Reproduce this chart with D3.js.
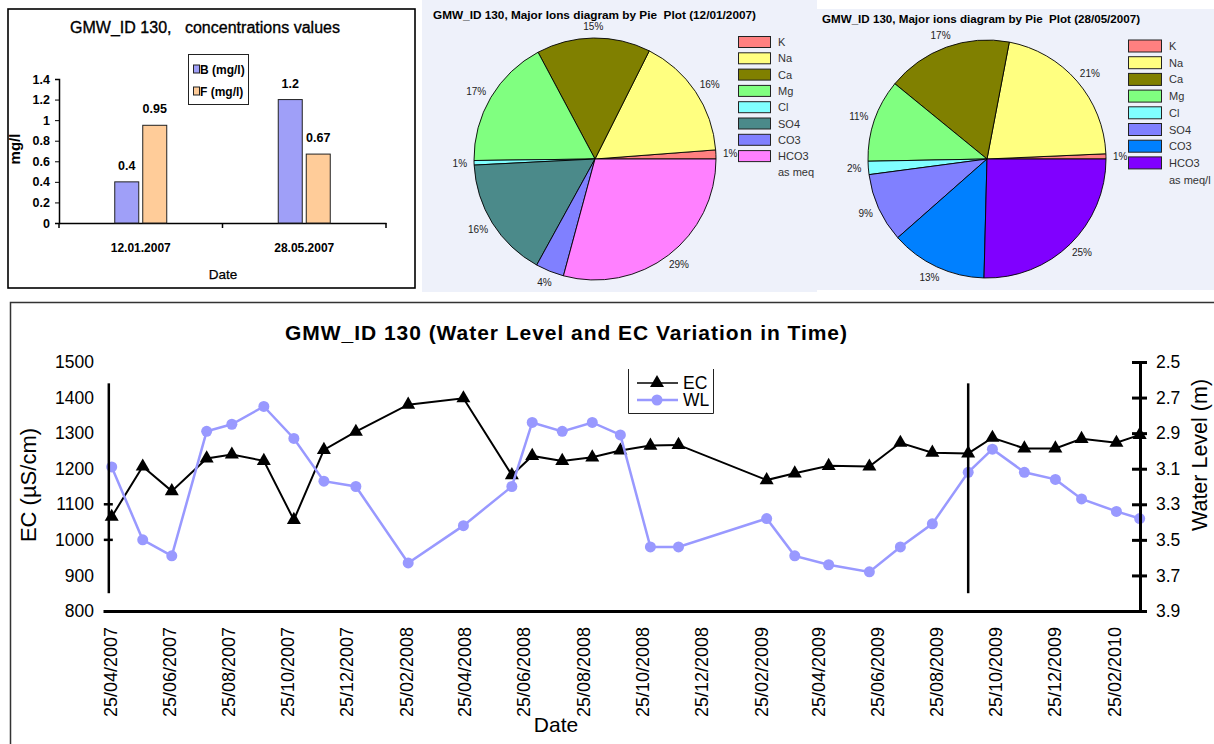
<!DOCTYPE html>
<html><head><meta charset="utf-8">
<script src="https://cdn.jsdelivr.net/npm/d3@7"></script>
<style>
body{margin:0;background:#fff;}
svg{display:block;font-family:"Liberation Sans",Arial,Helvetica,sans-serif;}
text{white-space:pre;}
</style>
</head><body>
<script>
// ---------- data ----------
const barDates = ["12.01.2007", "28.05.2007"];
const barSeries = ["B (mg/l)", "F (mg/l)"];
const boronValues = [0.4, 1.2];
const fluorideValues = [0.95, 0.67];
const barTicks = [0, 0.2, 0.4, 0.6, 0.8, 1, 1.2, 1.4];
const barColors = ["#9f9ff8", "#ffcc99"];

const ions = ["K", "Na", "Ca", "Mg", "Cl", "SO4", "CO3", "HCO3"];
const pie1Values = [1.2, 16.4, 15.2, 17.4, 0.6, 16.2, 3.8, 29.2];
const pie2Values = [0.7, 21.3, 17.1, 11.2, 1.8, 9.4, 13.1, 25.4];
const pie1Colors = ["#ff8080", "#ffff80", "#808000", "#80ff80", "#80ffff", "#4b8a8a", "#8080ff", "#ff80ff"];
const pie2Colors = ["#ff8080", "#ffff80", "#808000", "#80ff80", "#80ffff", "#8080ff", "#0080ff", "#8000ff"];

const sampleDates = ["2007-04-27","2007-05-29","2007-06-28","2007-08-03","2007-08-29","2007-10-01","2007-11-01","2007-12-02","2008-01-04","2008-02-27","2008-04-24","2008-06-13","2008-07-04","2008-08-04","2008-09-04","2008-10-03","2008-11-03","2008-12-02","2009-03-03","2009-04-01","2009-05-06","2009-06-17","2009-07-19","2009-08-21","2009-09-27","2009-10-22","2009-11-24","2009-12-26","2010-01-22","2010-02-27","2010-03-23"];
const ecValues = [1065,1206,1137,1229,1240,1222,1056,1253,1304,1380,1398,1182,1236,1222,1232,1251,1265,1267,1168,1187,1208,1206,1273,1245,1243,1287,1257,1257,1284,1273,1295];
const wlValues = [3.09,3.50,3.59,2.89,2.85,2.75,2.93,3.17,3.20,3.63,3.42,3.20,2.84,2.89,2.84,2.91,3.54,3.54,3.38,3.59,3.64,3.68,3.54,3.41,3.12,2.99,3.12,3.16,3.27,3.34,3.38];
const dateTicks = ["2007-04-25","2007-06-25","2007-08-25","2007-10-25","2007-12-25","2008-02-25","2008-04-25","2008-06-25","2008-08-25","2008-10-25","2008-12-25","2009-02-25","2009-04-25","2009-06-25","2009-08-25","2009-10-25","2009-12-25","2010-02-25"];
const ecTicks = [800, 900, 1000, 1100, 1200, 1300, 1400, 1500];
const wlTicks = [2.5, 2.7, 2.9, 3.1, 3.3, 3.5, 3.7, 3.9];
const markerDates = ["2007-04-24", "2009-09-27"];
const markerRange = [850, 1440];
const markerTicks = [1000, 1100];

// ---------- svg ----------
const svg = d3.select("body").append("svg").attr("width", 1214).attr("height", 744);

// ================= Bar chart panel =================
svg.append("rect").attr("x", 8).attr("y", 9).attr("width", 407).attr("height", 279)
  .attr("fill", "#fff").attr("stroke", "#000").attr("stroke-width", 1.6);
svg.append("text").attr("x", 205).attr("y", 33).attr("text-anchor", "middle")
  .attr("font-size", 16).attr("stroke", "#000").attr("stroke-width", 0.35)
  .attr("textLength", 270).attr("lengthAdjust", "spacing")
  .text("GMW_ID 130,   concentrations values");

const x0 = d3.scaleBand().domain(barDates).range([59, 386]);
const x1 = d3.scaleBand().domain(barSeries).range([0, 52]).paddingInner(0.142857);
const yBar = d3.scaleLinear().domain([0, 1.4]).range([223, 79]);

const yAx = svg.append("g").attr("transform", "translate(59,0)")
  .call(d3.axisLeft(yBar).tickValues(barTicks).tickSize(4).tickPadding(5).tickFormat(d => String(+d.toFixed(1))));
yAx.select(".domain").attr("stroke-width", 1.5);
yAx.selectAll("text").attr("font-size", 12.5).attr("font-weight", "bold").attr("font-family", "Liberation Sans, Arial");

const xAx = svg.append("g").attr("transform", "translate(0,223)")
  .call(d3.axisBottom(x0).tickSize(0).tickPadding(20));
xAx.select(".domain").attr("stroke-width", 1.5);
xAx.selectAll("text").attr("font-size", 12).attr("font-weight", "bold").attr("font-family", "Liberation Sans, Arial");
const bounds = barDates.map(d => x0(d)).concat([x0.range()[1]]);
svg.append("g").selectAll("line").data(bounds).join("line")
  .attr("x1", d => d).attr("x2", d => d).attr("y1", 223).attr("y2", 228)
  .attr("stroke", "#000").attr("stroke-width", 1.5);

const barRows = barDates.map((d, i) => ({date: d, vals: [boronValues[i], fluorideValues[i]]}));
const grp = svg.append("g").selectAll("g").data(barRows).join("g")
  .attr("transform", d => `translate(${x0(d.date) + x0.bandwidth() / 2 - 26},0)`);
grp.selectAll("rect").data(d => d.vals.map((v, j) => ({s: barSeries[j], v, j}))).join("rect")
  .attr("x", d => x1(d.s)).attr("width", x1.bandwidth())
  .attr("y", d => yBar(d.v)).attr("height", d => yBar(0) - yBar(d.v))
  .attr("fill", d => barColors[d.j]).attr("stroke", "#222").attr("stroke-width", 1);
grp.selectAll("text").data(d => d.vals.map((v, j) => ({s: barSeries[j], v}))).join("text")
  .attr("x", d => x1(d.s) + x1.bandwidth() / 2).attr("y", d => yBar(d.v) - 12)
  .attr("text-anchor", "middle").attr("font-size", 12.5).attr("font-weight", "bold")
  .text(d => String(d.v));

svg.append("text").attr("transform", "translate(20,149) rotate(-90)").attr("text-anchor", "middle")
  .attr("font-size", 15).attr("font-weight", "bold").text("mg/l");
svg.append("text").attr("x", 223).attr("y", 279).attr("text-anchor", "middle")
  .attr("font-size", 13.5).attr("stroke", "#000").attr("stroke-width", 0.25).text("Date");

// legend
svg.append("rect").attr("x", 188.5).attr("y", 54.5).attr("width", 60).attr("height", 50)
  .attr("fill", "#fff").attr("stroke", "#222").attr("stroke-width", 1);
barSeries.forEach((s, i) => {
  const cy = 69 + i * 22;
  svg.append("rect").attr("x", 193.5).attr("y", cy - 4).attr("width", 6).attr("height", 8)
    .attr("fill", barColors[i]).attr("stroke", "#222").attr("stroke-width", 1);
  svg.append("text").attr("x", 200).attr("y", cy + 4.5).attr("font-size", 12).attr("font-weight", "bold").text(s);
});

// ================= Pie panels =================
svg.append("rect").attr("x", 422).attr("y", 0).attr("width", 395).attr("height", 292).attr("fill", "#eef1fa");
svg.append("rect").attr("x", 817).attr("y", 9).attr("width", 397).attr("height", 281).attr("fill", "#eef1fa");

function drawPie(o) {
  svg.append("text").attr("x", o.tx).attr("y", o.ty).attr("font-size", 10).attr("font-weight", "bold")
    .attr("textLength", o.tl).attr("lengthAdjust", "spacingAndGlyphs").text(o.title);
  const g = svg.append("g").attr("transform", `translate(${o.cx},${o.cy})`);
  const pie = d3.pie().sort(null).startAngle(Math.PI / 2).endAngle(Math.PI / 2 - 2 * Math.PI);
  const arcs = pie(o.values);
  const arc = d3.arc().innerRadius(0).outerRadius(o.r);
  const lab = d3.arc().innerRadius(o.r + 7).outerRadius(o.r + 7);
  const total = d3.sum(o.values);
  g.selectAll("path").data(arcs).join("path").attr("d", arc)
    .attr("fill", (d, i) => o.colors[i]).attr("stroke", "#000").attr("stroke-width", 0.9);
  g.selectAll("text").data(arcs).join("text")
    .attr("text-anchor", "middle").attr("dy", "0.35em")
    .attr("font-size", 10).attr("fill", "#222")
    .text(d => Math.round(d.value / total * 100) + "%")
    .attr("transform", function(d) {
      const c = lab.centroid(d);
      const a = (d.startAngle + d.endAngle) / 2;
      const w = this.getComputedTextLength();
      return `translate(${c[0] + Math.sin(a) * w / 2},${c[1] - Math.cos(a) * 5})`;
    });
  const lg = svg.append("g");
  ions.forEach((name, i) => {
    const cy = o.ly + i * o.step;
    lg.append("rect").attr("x", o.lx + 0.5).attr("y", cy - o.sh / 2).attr("width", o.sw).attr("height", o.sh)
      .attr("fill", o.colors[i]).attr("stroke", "#222").attr("stroke-width", 1);
    lg.append("text").attr("x", o.lx + o.sw + 8).attr("y", cy + 4).attr("font-size", 11).attr("fill", "#333").text(name);
  });
  lg.append("text").attr("x", o.lx + o.sw + 8).attr("y", o.ly + 8 * o.step + 4).attr("font-size", 11).attr("fill", "#333").text(o.unit);
}
drawPie({title: "GMW_ID 130, Major Ions diagram by Pie  Plot (12/01/2007)", tx: 433, ty: 19, tl: 323,
  cx: 595, cy: 159, r: 121, values: pie1Values, colors: pie1Colors,
  lx: 738, ly: 42, step: 16.3, sw: 32, sh: 11, unit: "as meq"});
drawPie({title: "GMW_ID 130, Major ions diagram by Pie  Plot (28/05/2007)", tx: 822, ty: 23, tl: 318,
  cx: 987, cy: 159, r: 119, values: pie2Values, colors: pie2Colors,
  lx: 1128, ly: 46, step: 16.7, sw: 33, sh: 12, unit: "as meq/l"});

// ================= Time series chart =================
svg.append("path").attr("d", "M10.5,744V302.5H1214").attr("fill", "none").attr("stroke", "#333").attr("stroke-width", 1.5);
svg.append("text").attr("x", 566).attr("y", 340).attr("text-anchor", "middle")
  .attr("font-size", 21).attr("font-weight", "bold").attr("textLength", 562).attr("lengthAdjust", "spacing")
  .text("GMW_ID 130 (Water Level and EC Variation in Time)");

const parse = d3.utcParse("%Y-%m-%d");
const x = d3.scaleUtc().domain([Date.UTC(2007, 3, 18), Date.UTC(2010, 2, 23, 8)]).range([103, 1140]);
const yEC = d3.scaleLinear().domain([800, 1500]).range([611, 362]);
const yWL = d3.scaleLinear().domain([2.5, 3.9]).range([362, 611]);

const pts = sampleDates.map((d, i) => ({date: parse(d), ec: ecValues[i], wl: wlValues[i]}));

// left labels
const lAx = svg.append("g").attr("transform", "translate(94,0)")
  .call(d3.axisLeft(yEC).tickValues(ecTicks).tickSize(0).tickPadding(0).tickFormat(d3.format("d")));
lAx.select(".domain").remove();
lAx.selectAll("text").attr("font-size", 17.5).attr("font-family", "Liberation Sans, Arial");

// x axis
const bAx = svg.append("g").attr("transform", "translate(0,611)")
  .call(d3.axisBottom(x).tickValues(dateTicks.map(parse)).tickSize(0).tickFormat(d3.utcFormat("%d/%m/%Y")));
bAx.select(".domain").attr("stroke-width", 3);
bAx.selectAll("text").attr("transform", "rotate(-90)").attr("x", -16).attr("y", 0).attr("dy", "0.36em")
  .attr("text-anchor", "end").attr("font-size", 18).attr("font-family", "Liberation Sans, Arial");

// EC series
const lineEC = d3.line().x(d => x(d.date)).y(d => yEC(d.ec));
svg.append("path").datum(pts).attr("d", lineEC).attr("fill", "none").attr("stroke", "#000").attr("stroke-width", 2);
svg.append("g").selectAll("path").data(pts).join("path")
  .attr("transform", d => `translate(${x(d.date)},${yEC(d.ec)})`)
  .attr("d", d3.symbol(d3.symbolTriangle, 85)).attr("fill", "#000");

// WL series
const lineWL = d3.line().x(d => x(d.date)).y(d => yWL(d.wl));
svg.append("path").datum(pts).attr("d", lineWL).attr("fill", "none").attr("stroke", "#9999ff").attr("stroke-width", 2.5);
svg.append("g").selectAll("circle").data(pts).join("circle")
  .attr("cx", d => x(d.date)).attr("cy", d => yWL(d.wl)).attr("r", 5.5).attr("fill", "#9999ff");

// vertical marker lines
svg.append("g").selectAll("line").data(markerDates).join("line")
  .attr("x1", d => x(parse(d))).attr("x2", d => x(parse(d)))
  .attr("y1", yEC(markerRange[0])).attr("y2", yEC(markerRange[1]))
  .attr("stroke", "#000").attr("stroke-width", 2.5);
svg.append("g").selectAll("line").data(markerTicks).join("line")
  .attr("x1", x(parse(markerDates[0])) - 5).attr("x2", x(parse(markerDates[0])) + 4)
  .attr("y1", d => yEC(d)).attr("y2", d => yEC(d)).attr("stroke", "#000").attr("stroke-width", 2.5);

// right axis
const rAx = svg.append("g").attr("transform", "translate(1140,0)")
  .call(d3.axisRight(yWL).tickValues(wlTicks).tickSizeInner(7).tickSizeOuter(0).tickPadding(9).tickFormat(d3.format(".1f")));
rAx.select(".domain").attr("stroke-width", 3);
rAx.selectAll(".tick line").attr("x1", -8).attr("stroke-width", 3);
rAx.selectAll("text").attr("font-size", 17.5).attr("font-family", "Liberation Sans, Arial");

// axis titles
svg.append("text").attr("transform", "translate(28,485) rotate(-90)").attr("text-anchor", "middle")
  .attr("dy", "0.35em").attr("font-size", 22).text("EC (\u00b5S/cm)");
svg.append("text").attr("transform", "translate(1201,455) rotate(-90)").attr("text-anchor", "middle")
  .attr("dy", "0.3em").attr("font-size", 21.5).text("Water Level (m)");
svg.append("text").attr("x", 556).attr("y", 732).attr("text-anchor", "middle").attr("font-size", 21).text("Date");

// legend
svg.append("path").attr("d", "M628.5,369V413.5H713.5V369").attr("fill", "none").attr("stroke", "#222").attr("stroke-width", 1);
const legItems = [{name: "EC", y: 383}, {name: "WL", y: 400}];
svg.append("line").attr("x1", 637).attr("x2", 678).attr("y1", 383).attr("y2", 383).attr("stroke", "#000").attr("stroke-width", 1.5);
svg.append("path").attr("transform", "translate(657,383)").attr("d", d3.symbol(d3.symbolTriangle, 85)).attr("fill", "#000");
svg.append("line").attr("x1", 637).attr("x2", 678).attr("y1", 400).attr("y2", 400).attr("stroke", "#9999ff").attr("stroke-width", 2.5);
svg.append("circle").attr("cx", 657).attr("cy", 400).attr("r", 5.5).attr("fill", "#9999ff");
legItems.forEach(d => {
  svg.append("text").attr("x", 683).attr("y", d.y + 6).attr("font-size", 17.5).text(d.name);
});
</script>
</body></html>
